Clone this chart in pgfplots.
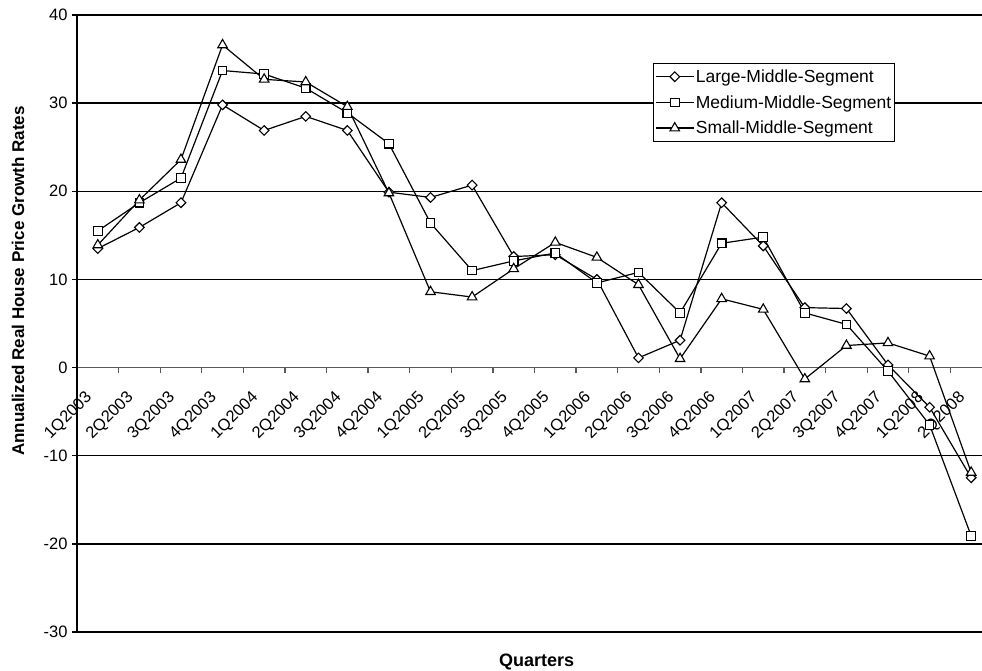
\documentclass[border=0pt]{standalone}
\usepackage{fontspec}
\setmainfont{Liberation Sans}
\usepackage{pgfplots}
\pgfplotsset{compat=1.18}

% Annualized real house price growth rates by middle-income segment
\pgfplotstableread{
idx large medium small
0   13.5  15.5  13.9
1   15.9  18.7  19.0
2   18.7  21.5  23.6
3   29.8  33.7  36.6
4   26.9  33.3  32.7
5   28.5  31.7  32.4
6   26.9  28.9  29.6
7   19.9  25.4  19.8
8   19.3  16.4   8.6
9   20.7  11.0   8.0
10  12.6  12.1  11.2
11  12.8  13.0  14.2
12  10.0   9.6  12.5
13   1.1  10.8   9.4
14   3.1   6.2   1.0
15  18.7  14.1   7.8
16  13.8  14.8   6.6
17   6.8   6.2  -1.3
18   6.7   4.9   2.5
19   0.3  -0.4   2.8
20  -4.5  -6.5   1.3
21 -12.5 -19.1 -11.9
}\growth

\begin{document}
\begin{tikzpicture}
\path[use as bounding box] (-77pt,-39pt) rectangle (905pt,632pt);
\begin{axis}[
  at={(0pt,0pt)}, anchor=south west,
  scale only axis,
  width=905pt, height=617pt,
  xmin=-0.5, xmax=21.26,
  ymin=-30, ymax=40,
  axis y line*=left,
  axis x line*=middle,
  x axis line style={draw=black!65, line width=1.4pt},
  y axis line style={line width=1.4pt},
  ytick={-30,-20,-10,0,10,20,30,40},
  yticklabels={-30,-20,-10,0,10,20,30,40},
  ymajorgrids,
  major grid style={black, line width=1.3pt},
  tick align=outside,
  major tick length=5pt,
  tick style={line width=1.3pt, black},
  xtick={-0.5,0.5,...,20.5},
  xticklabels={},
  xtick style={draw=black!65},
  extra x ticks={0,1,...,21},
  extra x tick labels={1Q2003,2Q2003,3Q2003,4Q2003,1Q2004,2Q2004,3Q2004,4Q2004,1Q2005,2Q2005,3Q2005,4Q2005,1Q2006,2Q2006,3Q2006,4Q2006,1Q2007,2Q2007,3Q2007,4Q2007,1Q2008,2Q2008},
  extra x tick style={major tick length=0pt,
    xticklabel style={xshift=-6pt, yshift=-25pt, rotate=45, anchor=east,
      font=\fontsize{16.5}{19}\selectfont}},
  yticklabel style={font=\fontsize{16.5}{19}\selectfont, xshift=-1pt},
  xlabel={Quarters},
  ylabel={Annualized Real House Price Growth Rates},
  xlabel style={at={(axis description cs:0.508,-0.048)}, anchor=center,
    font=\fontsize{18}{21}\selectfont\bfseries},
  ylabel style={at={(axis description cs:-0.0652,0.569)}, anchor=center,
    font=\fontsize{17}{20}\selectfont\bfseries},
  every axis plot/.append style={black, line width=1.2pt,
    mark options={fill=white, solid, line width=1.1pt}},
  legend cell align=left,
  legend image code/.code={%
    \draw[#1] (0pt,0pt) -- (38pt,0pt);
    \draw[#1, only marks] plot coordinates {(19pt,0pt)};},
  legend style={at={(axis cs:13.34,34.6)}, anchor=north west,
    draw=black, line width=1.1pt, fill=white,
    font=\fontsize{17.5}{20}\selectfont,
    inner xsep=2pt, inner ysep=5pt, row sep=8.5pt,
    nodes={inner sep=1.5pt}},
]
\addplot[mark=square*, mark size=3.4pt,
  mark options={rotate=45, fill=white, solid, line width=1.1pt}]
  table[x=idx, y=large] {\growth};
\addlegendentry{Large-Middle-Segment}
\addplot[mark=square*, mark size=4.3pt] table[x=idx, y=medium] {\growth};
\addlegendentry{Medium-Middle-Segment}
\addplot[mark=triangle*, mark size=5.5pt] table[x=idx, y=small] {\growth};
\addlegendentry{Small-Middle-Segment}
\end{axis}
\end{tikzpicture}
\end{document}
